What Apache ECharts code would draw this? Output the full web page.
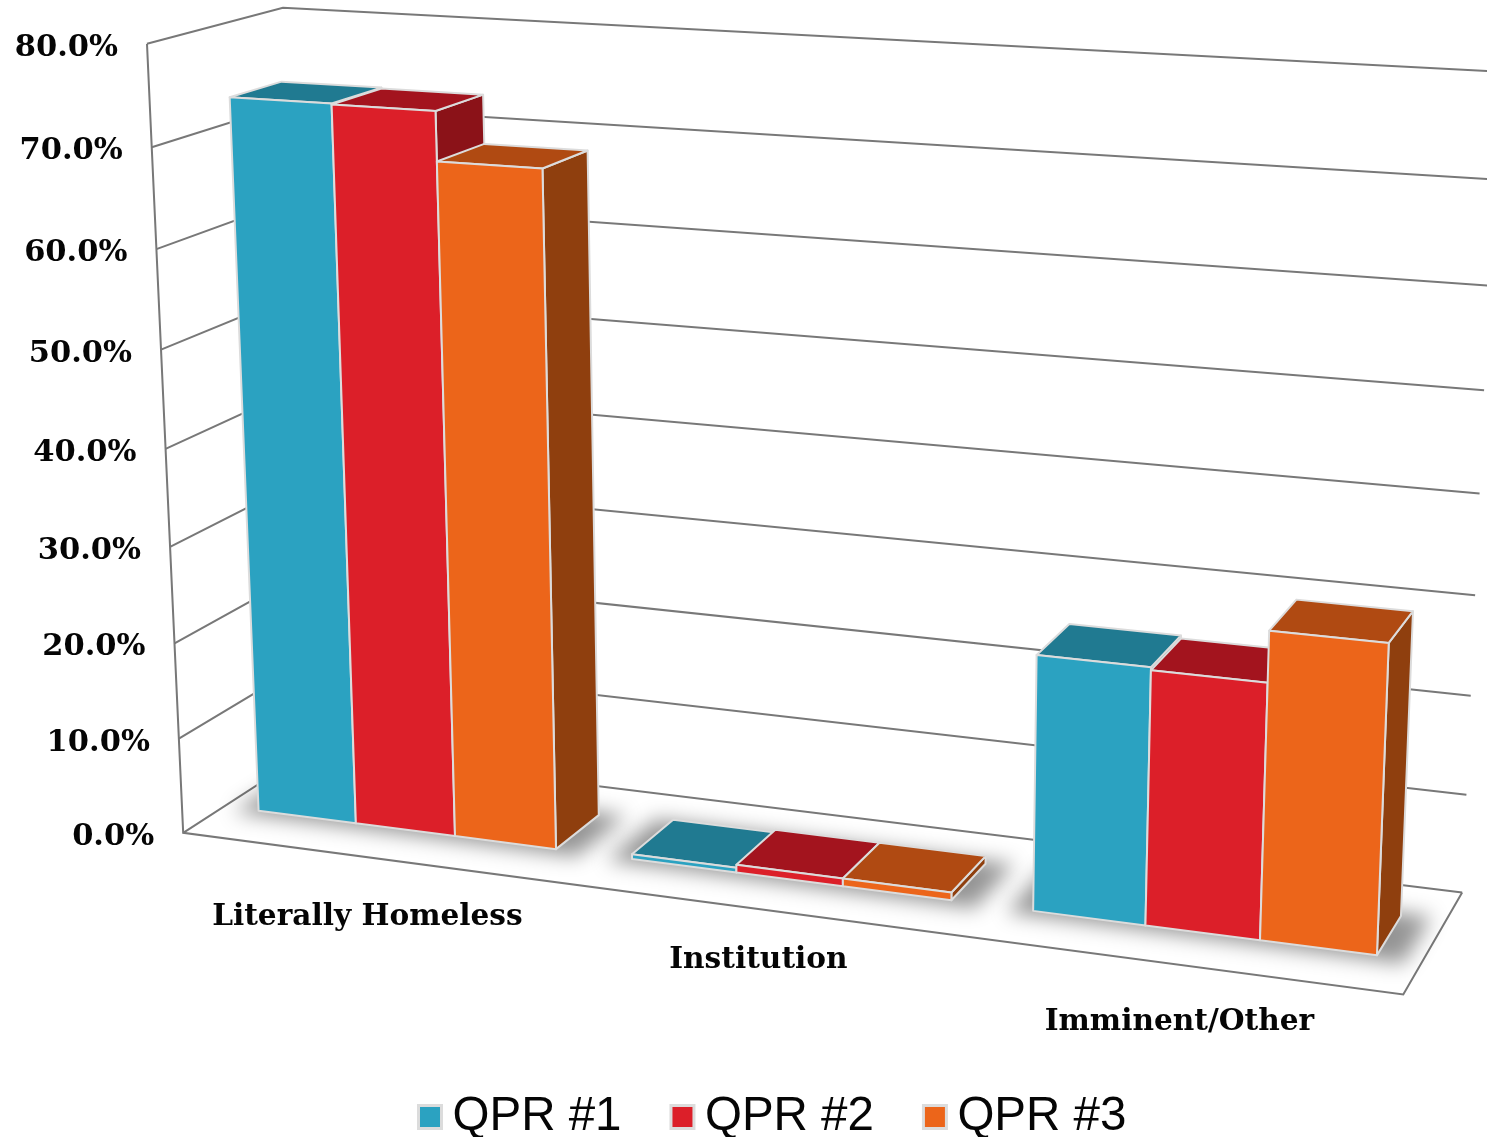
<!DOCTYPE html>
<html>
<head>
<meta charset="utf-8">
<script src="https://cdn.jsdelivr.net/npm/echarts@6/dist/echarts.min.js"></script>
<style>html,body{margin:0;padding:0;background:#fff}#c{width:1487px;height:1137px}</style>
</head>
<body>
<div id="c"></div>
<script>
const categories = ['Literally Homeless', 'Institution', 'Imminent/Other'];
const seriesNames = ['QPR #1', 'QPR #2', 'QPR #3'];
const qpr1 = [73.8, 0.5, 25.6];
const qpr2 = [73.7, 0.8, 25.3];
const qpr3 = [68.8, 0.8, 30.3];
const yTicks = [0, 10, 20, 30, 40, 50, 60, 70, 80];
const yTickLabels = ['0.0%', '10.0%', '20.0%', '30.0%', '40.0%', '50.0%', '60.0%', '70.0%', '80.0%'];

const values = [qpr1, qpr2, qpr3];
const frontColors = ['#2BA2C1', '#DC1F29', '#EC651A'];
const topColors = ['#207A91', '#A3141E', '#B04A12'];
const sideColors = ['#176070', '#8B1218', '#8F3F0E'];
const yMax = 80;
const groupFrac = 0.802, v0 = 0.31, v1 = 0.70, uShift = -0.0012;
const catLabelDy = [60, 51, 57];
const serif = '"DejaVu Serif"';

// Camera calibration: cube-space corner (u, v, h) -> picture position
const calib = [
  [0,0,0, 183,833],[1,0,0, 1403,995],[1,1,0, 1462,892],[0,1,0, 310,751],
  [0,0,80, 146,44],[0,1,80, 283,8],[1,1,80, 1498,72],[1,1,40, 1480,493],[0,0,40, 167,448]
];
function solveCamera() {
  const n = 11, A = Array.from({length:n},()=>new Array(n+1).fill(0));
  const add = (r, b) => { for (let i=0;i<n;i++){ for (let j=0;j<n;j++) A[i][j]+=r[i]*r[j]; A[i][n]+=r[i]*b; } };
  calib.forEach(c => {
    const X=[c[0],c[1],c[2]/80,1], x=c[3]/1000, y=c[4]/1000;
    add([...X,0,0,0,0,-x*X[0],-x*X[1],-x*X[2]], x);
    add([0,0,0,0,...X,-y*X[0],-y*X[1],-y*X[2]], y);
  });
  for (let i=0;i<n;i++){
    let p=i; for (let k=i+1;k<n;k++) if (Math.abs(A[k][i])>Math.abs(A[p][i])) p=k;
    [A[i],A[p]]=[A[p],A[i]];
    for (let k=0;k<n;k++) if (k!==i){ const f=A[k][i]/A[i][i]; for (let j=i;j<=n;j++) A[k][j]-=f*A[i][j]; }
  }
  return A.map((r,i)=>r[n]/r[i]);
}
const P = solveCamera();
function project(u, v, h) {
  const t = h/80, w = P[8]*u+P[9]*v+P[10]*t+1;
  return [1000*(P[0]*u+P[1]*v+P[2]*t+P[3])/w, 1000*(P[4]*u+P[5]*v+P[6]*t+P[7])/w];
}

const el = document.getElementById('c');
const chart = echarts.init(el);
const W = 1487, H = 1137;
const hOf = py => (H - py) / H * yMax;

const wallSeries = {
  type:'custom', silent:true, z:1, data: yTicks.map((t,i)=>[0,t]),
  renderItem(params, api){
    const h = hOf(api.coord([0, api.value(1)])[1]);
    const pts = [project(0,0,h), project(0,1,h), project(1,1,h)];
    return {type:'polyline', shape:{points:pts}, style:{stroke:'#787878', fill:null, lineWidth:2}};
  }
};
const frameSeries = {
  type:'custom', silent:true, z:1, data:[[0,0]],
  renderItem(){
    return {type:'polyline', shape:{points:[project(0,0,yMax),project(0,0,0),project(1,0,0),project(1,1,0)]},
       style:{stroke:'#787878', fill:null, lineWidth:2}};
  }
};
// Soft floor shadow: the footprint itself is drawn off-canvas, only its blur lands on the floor.
const shadowShift = 3000;
const shadowSeries = {
  type:'custom', silent:true, z:2, data: categories.map((c,i)=>[i,0]),
  renderItem(params, api){
    const i = api.value(0), W0 = api.coord([i,0]), band = api.size([1,0])[0];
    const uL = (W0[0]-band*groupFrac/2)/W + uShift - 0.018, uR = (W0[0]+band*groupFrac/2)/W + uShift + 0.022;
    const pts=[project(uL,v0-0.045,0),project(uR,v0-0.045,0),project(uR,v1+0.03,0),project(uL,v1+0.03,0)]
      .map(p=>[p[0]-shadowShift,p[1]]);
    return {type:'polygon', shape:{points:pts},
      style:{fill:'#000', shadowBlur:20, shadowColor:'rgba(0,0,0,0.42)', shadowOffsetX:shadowShift, shadowOffsetY:0}};
  }
};
function barSeries(s){
  return {
    name: seriesNames[s], type:'custom', silent:true, z:3,
    itemStyle:{color:frontColors[s]},
    data: values[s].map((v,i)=>[i,v]),
    renderItem(params, api){
      const i = api.value(0), c = api.coord([i, api.value(1)]), band = api.size([1,0])[0];
      const h = hOf(c[1]), bw = band*groupFrac/3;
      const uL = (c[0]-band*groupFrac/2+s*bw)/W + uShift, uR = uL+bw/W;
      const edge = {stroke:'#dcdcdc', lineWidth:2, lineJoin:'round'};
      const a=project(uL,v0,0), b=project(uR,v0,0), e=project(uR,v1,0);
      const A=project(uL,v0,h), B=project(uR,v0,h), E=project(uR,v1,h), F=project(uL,v1,h);
      return {type:'group', children:[
        {type:'polygon', shape:{points:[b,e,E,B]}, style:{fill:sideColors[s], ...edge}},
        {type:'polygon', shape:{points:[A,B,E,F]}, style:{fill:topColors[s], ...edge}},
        {type:'polygon', shape:{points:[a,b,B,A]}, style:{fill:frontColors[s], ...edge}}
      ]};
    }
  };
}
const yLabelSeries = {
  type:'custom', silent:true, z:5, data: yTicks.map((t,i)=>[0,t,i]),
  renderItem(params, api){
    const h = hOf(api.coord([0, api.value(1)])[1]), p = project(0,0,h);
    return {type:'text', x:p[0]-29, y:p[1]+4, style:{text:yTickLabels[api.value(2)], align:'right', verticalAlign:'middle',
      font:'bold 30.5px '+serif, fill:'#050505'}};
  }
};
const catLabelSeries = {
  type:'custom', silent:true, z:5, data: categories.map((c,i)=>[i,0]),
  renderItem(params, api){
    const i = api.value(0), c = api.coord([i,0]), p = project(c[0]/W,0,0);
    return {type:'text', x:p[0]-1, y:p[1]+catLabelDy[i], style:{text:categories[i], align:'center', verticalAlign:'middle',
      font:'bold 29.6px '+serif, fill:'#050505'}};
  }
};

chart.setOption({
  animation:false,
  backgroundColor:'#fff',
  grid:{left:0,right:0,top:0,bottom:0,containLabel:false},
  xAxis:{type:'category',data:categories,show:false,boundaryGap:true},
  yAxis:{type:'value',min:0,max:yMax,interval:10,show:false},
  legend:{
    data:seriesNames, left:417, top:1093, padding:0, itemWidth:23, itemHeight:23, itemGap:48, icon:'rect',
    itemStyle:{borderColor:'#dcdcdc', borderWidth:3},
    textStyle:{fontFamily:'"Liberation Sans"', fontSize:47.5, color:'#050505', padding:[0,0,0,6]},
    selectedMode:false
  },
  series:[wallSeries, frameSeries, shadowSeries, barSeries(0), barSeries(1), barSeries(2), yLabelSeries, catLabelSeries]
});
</script>
</body>
</html>
